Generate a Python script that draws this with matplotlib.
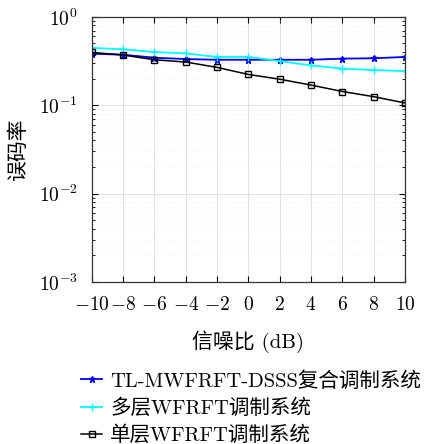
import matplotlib
matplotlib.use("Agg")
import matplotlib.pyplot as plt
import numpy as np

snr = [-10, -8, -6, -4, -2, 0, 2, 4, 6, 8, 10]
ber_tl = [0.383, 0.373, 0.345, 0.333, 0.327, 0.327, 0.327, 0.327, 0.337, 0.340, 0.352]
ber_multi = [0.445, 0.430, 0.400, 0.386, 0.352, 0.352, 0.316, 0.282, 0.260, 0.250, 0.243]
ber_single = [0.396, 0.370, 0.327, 0.308, 0.268, 0.223, 0.197, 0.169, 0.143, 0.125, 0.106]
labels = ["TL-MWFRFT-DSSS复合调制系统", "多层WFRFT调制系统", "单层WFRFT调制系统"]

plt.rcParams['font.family'] = ['cmr10', 'Noto Sans CJK SC']
plt.rcParams['mathtext.fontset'] = 'cm'
plt.rcParams['axes.formatter.use_mathtext'] = True
plt.rcParams['axes.unicode_minus'] = True

fig = plt.figure(figsize=(4.25, 4.44), dpi=100)
ax = fig.add_axes([0.216, 0.365, 0.737, 0.597])

ax.plot(snr, ber_tl, color='#0000ff', marker='*', markersize=5, lw=1.3, label=labels[0])
ax.plot(snr, ber_multi, color='#00ffff', marker='+', markersize=6, lw=1.3, label=labels[1])
ax.plot(snr, ber_single, color='black', marker='s', markersize=4, mfc='none', lw=1.1, label=labels[2])

ax.set_yscale('log')
ax.set_ylim(1e-3, 1)
ax.set_xlim(-10, 10)
ax.set_xticks(snr)
ax.set_xticklabels([r"$%d$" % v if v >= 0 else r"$-%d$" % -v for v in snr])
ax.grid(True, which='major', color='#dddddd', lw=0.6)
ax.grid(True, which='minor', color='#eeeeee', lw=0.5, linestyle=':')
ax.tick_params(which='both', direction='in', top=True, right=True, labelsize=14)
ax.tick_params(which='major', length=4)
ax.tick_params(which='minor', length=2)
ax.tick_params(axis='x', pad=10)
ax.tick_params(axis='y', pad=10)
for s in ax.spines.values():
    s.set_color('#333333')
    s.set_linewidth(0.9)

ax.set_xlabel("信噪比 (dB)", fontsize=15, labelpad=12)
ax.set_ylabel("误码率", fontsize=15, labelpad=8)

fig.legend(loc='upper left', bbox_to_anchor=(0.172, 0.183), frameon=False,
           fontsize=14.8, handlelength=1.0, handletextpad=0.4, labelspacing=0.38,
           borderaxespad=0)

fig.savefig("out.png", dpi=100)
